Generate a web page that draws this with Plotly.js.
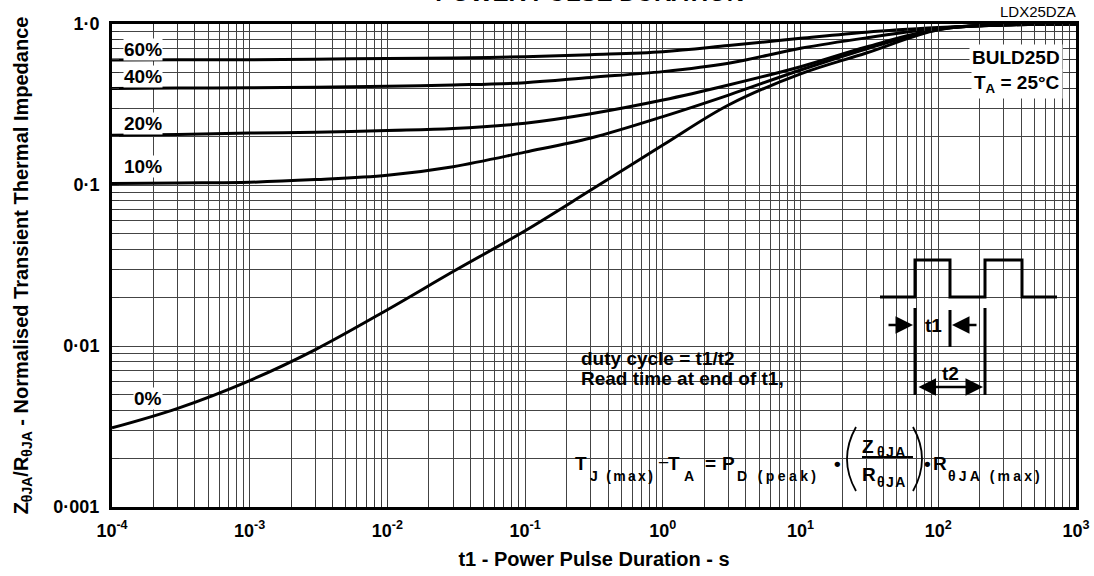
<!DOCTYPE html>
<html><head><meta charset="utf-8">
<script src="https://cdn.plot.ly/plotly-3.0.1.min.js"></script>
<style>html,body{margin:0;padding:0;background:#fff}</style>
</head><body><div id="chart" style="width:1094px;height:576px"></div>
<script>
// ---- data ----
const pulseDuration = [1e-4, 3e-4, 1e-3, 3e-3, 1e-2, 3e-2, 0.1, 0.3, 1, 3, 10, 30, 100, 300, 1000];
const duty60 = [0.598, 0.600, 0.600, 0.605, 0.610, 0.615, 0.626, 0.645, 0.673, 0.735, 0.815, 0.890, 0.950, 0.990, 1.0];
const duty40 = [0.398, 0.400, 0.402, 0.405, 0.410, 0.418, 0.432, 0.466, 0.506, 0.570, 0.706, 0.820, 0.940, 0.990, 1.0];
const duty20 = [0.204, 0.206, 0.210, 0.213, 0.218, 0.224, 0.242, 0.277, 0.337, 0.418, 0.543, 0.720, 0.930, 0.985, 1.0];
const duty10 = [0.102, 0.103, 0.104, 0.108, 0.115, 0.130, 0.160, 0.196, 0.266, 0.362, 0.518, 0.700, 0.925, 0.985, 1.0];
const duty0  = [0.0031, 0.0041, 0.0061, 0.0095, 0.0168, 0.029, 0.052, 0.093, 0.177, 0.314, 0.490, 0.660, 0.920, 0.985, 1.0];
const seriesNames = ['60%', '40%', '20%', '10%', '0%'];
const xTickVals = [1e-4, 1e-3, 1e-2, 1e-1, 1, 10, 100, 1000];
const xTickText = ['10<sup>-4</sup>', '10<sup>-3</sup>', '10<sup>-2</sup>', '10<sup>-1</sup>', '10<sup>0</sup>', '10<sup>1</sup>', '10<sup>2</sup>', '10<sup>3</sup>'];
const yTickVals = [0.001, 0.01, 0.1, 1];
const yTickText = ['0·001', '0·01', '0·1', '1·0'];

// minor grid values (2..9 per decade)
function minorVals(d0, d1) {
  const out = [];
  for (let d = d0; d < d1; d++) for (let k = 2; k <= 9; k++) out.push(k * Math.pow(10, d));
  return out;
}

const FONT = 'Liberation Sans, Arial, sans-serif';
const ML = 112, MT = 24, PW = 964, PH = 483;
const px = p => (p - ML) / PW;
const py = p => (MT + PH - p) / PH;

const seriesY = [duty60, duty40, duty20, duty10, duty0];
const traces = seriesY.map((ys, i) => ({
  x: pulseDuration, y: ys, name: seriesNames[i], type: 'scatter', mode: 'lines',
  line: {color: '#000', width: 3, shape: 'spline', smoothing: 1}, hoverinfo: 'skip'
}));

function path(pts) { return 'M' + pts.map(p => px(p[0]).toFixed(5) + ',' + py(p[1]).toFixed(5)).join(' L'); }
function qpath(a, c, b) {
  return 'M' + px(a[0]) + ',' + py(a[1]) + ' Q' + px(c[0]) + ',' + py(c[1]) + ' ' + px(b[0]) + ',' + py(b[1]);
}
const blk = {color: '#000', width: 3};
const shapes = [
  {type: 'rect', xref: 'paper', yref: 'paper', x0: px(568), x1: px(1067), y0: py(500), y1: py(339), fillcolor: '#fff', line: {width: 0}, layer: 'between'},
  {type: 'rect', xref: 'paper', yref: 'paper', x0: px(858), x1: px(1067), y0: py(339), y1: py(250), fillcolor: '#fff', line: {width: 0}, layer: 'between'},
  // pulse waveform
  {type: 'path', xref: 'paper', yref: 'paper', path: path([[880, 297], [915, 297], [915, 260], [950, 260], [950, 297], [985, 297], [985, 260], [1022, 260], [1022, 297], [1057, 297]]), line: blk},
  {type: 'path', xref: 'paper', yref: 'paper', path: path([[915, 308], [915, 395]]), line: blk},
  {type: 'path', xref: 'paper', yref: 'paper', path: path([[950, 310], [950, 347]]), line: blk},
  {type: 'path', xref: 'paper', yref: 'paper', path: path([[985, 308], [985, 395]]), line: blk},
  // formula fraction parts
  {type: 'path', xref: 'paper', yref: 'paper', path: path([[862, 457], [913, 457]]), line: {color: '#000', width: 2}},
  {type: 'path', xref: 'paper', yref: 'paper', path: qpath([856, 427], [838, 459], [856, 491]), line: {color: '#000', width: 1.8}},
  {type: 'path', xref: 'paper', yref: 'paper', path: qpath([913, 427], [931, 459], [913, 491]), line: {color: '#000', width: 1.8}}
];

function txt(text, x, y, size, opts) {
  return Object.assign({xref: 'paper', yref: 'paper', x: px(x), y: py(y), text: text, showarrow: false,
    font: {family: FONT, size: size, color: '#000', weight: 'bold'}, xanchor: 'center', yanchor: 'middle', borderpad: 0}, opts || {});
}
// main symbol + separate subscript (letter-spaced) for the formula
const subT = (s, x, y, sp) => txt('<span style="letter-spacing:' + sp + 'px">' + s + '</span>', x, y, 14, {xanchor: 'left'});
const mainT = (s, x, y) => txt(s, x, y, 19, {xanchor: 'left'});
const white = {bgcolor: '#fff'};
const annotations = [
  txt(seriesNames[0], 143, 49, 19, white),
  txt(seriesNames[1], 143, 77, 19, white),
  txt(seriesNames[2], 143, 123, 19, white),
  txt(seriesNames[3], 143, 167, 19, white),
  txt(seriesNames[4], 148, 398, 19, white),
  txt('BULD25D', 1063, 58, 19, {xanchor: 'right', bgcolor: '#fff', borderpad: 2}),
  txt('T<sub>A</sub> = 25°C', 1063, 84, 19, {xanchor: 'right', bgcolor: '#fff', borderpad: 2}),
  txt('LDX25DZA', 1077, 12, 15, {xanchor: 'right', font: {family: FONT, size: 15, color: '#000', weight: 'normal'}}),
  txt('duty cycle = t1/t2', 580, 358, 19, {xanchor: 'left'}),
  txt('Read time at end of t1,', 580, 378, 19, {xanchor: 'left'}),
  txt('t1', 933, 325, 19),
  txt('t2', 950, 373, 19),
  // formula: T_J(max) − T_A = P_D(peak) • (Zθja / Rθja) • Rθja(max)
  mainT('T', 574, 463),
  subT('J (max)', 589, 476, 2.3),
  txt('−', 663, 462, 19, {font: {family: FONT, size: 19, color: '#000', weight: 'normal'}}),
  mainT('T', 667, 463),
  subT('A', 683, 476, 0),
  txt('=', 710, 463, 19),
  mainT('P', 721, 463),
  subT('D (peak)', 736, 476, 3.4),
  txt('•', 837, 463, 19),
  mainT('Z', 861, 446),
  subT('θJA', 876, 452, 1.5),
  mainT('R', 861, 474),
  subT('θJA', 876, 482, 1.5),
  txt('•', 927, 463, 19),
  mainT('R', 932, 463),
  subT('θJA (max)', 947, 476, 3.2),
  // arrows
  {xref: 'paper', yref: 'paper', x: px(913), y: py(325), ax: -26, ay: 0, text: '', showarrow: true, arrowhead: 2, arrowsize: 1.4, arrowwidth: 2.5, arrowcolor: '#000', standoff: 0},
  {xref: 'paper', yref: 'paper', x: px(952), y: py(325), ax: 26, ay: 0, text: '', showarrow: true, arrowhead: 2, arrowsize: 1.4, arrowwidth: 2.5, arrowcolor: '#000', standoff: 0},
  {xref: 'paper', yref: 'paper', x: px(983), y: py(387), ax: -66, ay: 0, text: '', showarrow: true, arrowhead: 2, arrowside: 'end+start', arrowsize: 1.4, arrowwidth: 2.5, arrowcolor: '#000', standoff: 0, startstandoff: 0}
];

const axisCommon = {
  type: 'log', showgrid: true, gridcolor: '#444', gridwidth: 1,
  showline: true, linecolor: '#000', linewidth: 3, mirror: 'ticks',
  ticks: 'inside', ticklen: 7, tickwidth: 1, tickcolor: '#333',
  tickfont: {family: FONT, size: 18, color: '#000', weight: 'bold'},
  zeroline: false, tickmode: 'array'
};
const layout = {
  width: 1094, height: 576,
  margin: {l: ML, r: 1094 - ML - PW, t: MT, b: 576 - MT - PH},
  paper_bgcolor: '#fff', plot_bgcolor: '#fff', showlegend: false,
  font: {family: FONT, color: '#000'},
  title: {text: 'POWER PULSE DURATION', x: 0.539, xanchor: 'center', yref: 'container', y: 0.999, yanchor: 'bottom',
    font: {family: FONT, size: 24, color: '#000', weight: 'bold'}},
  xaxis: Object.assign({}, axisCommon, {
    range: [-4, 3], tickvals: xTickVals, ticktext: xTickText, ticklabelstandoff: 5,
    minor: {tickmode: 'array', tickvals: minorVals(-4, 3), ticks: 'inside', ticklen: 7, tickcolor: '#333', showgrid: true, gridcolor: '#444', gridwidth: 1},
    title: {text: 't1 - Power Pulse Duration - s', font: {family: FONT, size: 20, color: '#000', weight: 'bold'}, standoff: 13}
  }),
  yaxis: Object.assign({}, axisCommon, {
    range: [-3, 0], tickvals: yTickVals, ticktext: yTickText, ticklabelstandoff: 6,
    minor: {tickmode: 'array', tickvals: minorVals(-3, 0), ticks: 'inside', ticklen: 7, tickcolor: '#333', showgrid: true, gridcolor: '#444', gridwidth: 1},
    title: {text: 'Z<sub>θJA</sub>/R<sub>θJA</sub> - Normalised Transient Thermal Impedance', font: {family: FONT, size: 20, color: '#000', weight: 'bold'}, standoff: 20}
  }),
  shapes: shapes, annotations: annotations
};
Plotly.newPlot('chart', traces, layout, {staticPlot: true, displayModeBar: false});
</script>
</body></html>
